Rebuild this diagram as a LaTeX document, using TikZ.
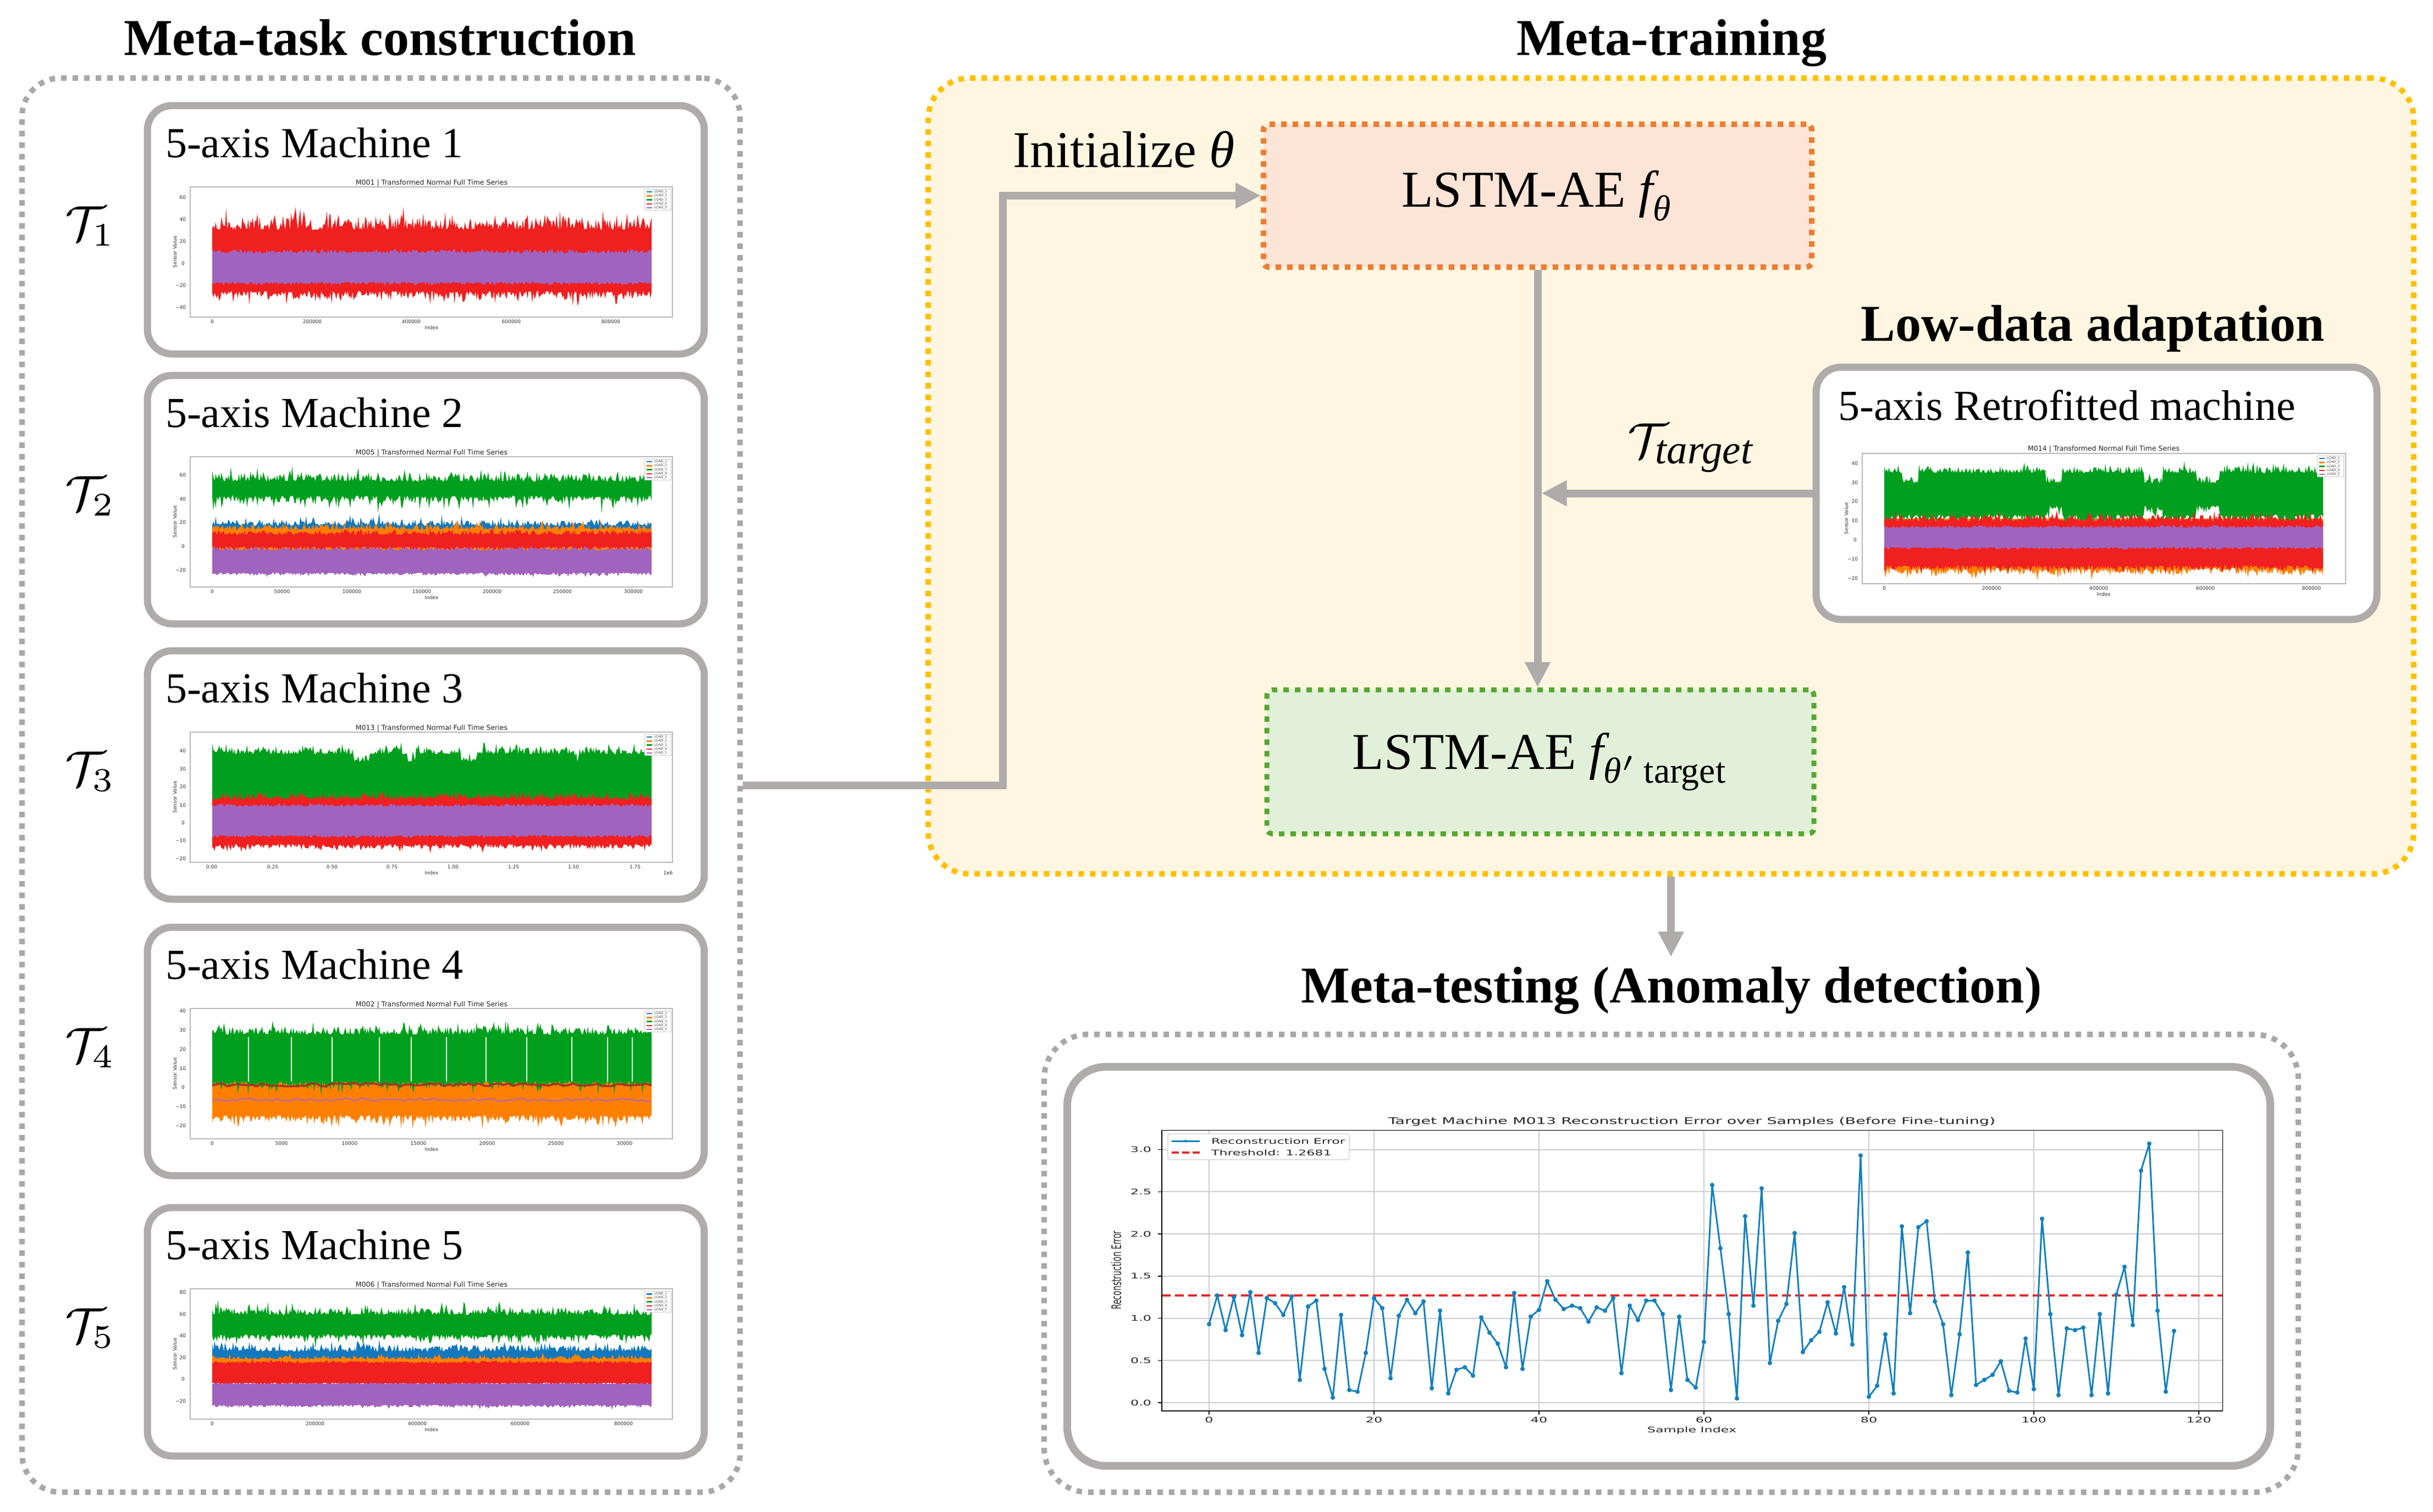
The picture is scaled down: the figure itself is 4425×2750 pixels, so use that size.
\documentclass[tikz,border=0pt]{standalone}
\usepackage{fontspec}
\usepackage{amsmath}
\usepackage{graphicx}
\setmainfont{Liberation Serif}
\newfontfamily\plotfont{DejaVu Sans}
\usetikzlibrary{arrows.meta}

\definecolor{boxgray}{RGB}{175,171,171}
\definecolor{arrowgray}{RGB}{175,171,171}
\definecolor{dotgray}{RGB}{168,168,168}
\definecolor{ygold}{RGB}{255,192,0}
\definecolor{cream}{RGB}{255,246,225}
\definecolor{orangeb}{RGB}{237,125,49}
\definecolor{peach}{RGB}{252,228,214}
\definecolor{greenb}{RGB}{84,168,48}
\definecolor{greenf}{RGB}{226,240,217}
\definecolor{pred}{RGB}{240,32,32}
\definecolor{ppurple}{RGB}{160,100,190}
\definecolor{pgreen}{RGB}{0,160,30}
\definecolor{porange}{RGB}{255,128,0}
\definecolor{pblue}{RGB}{20,120,190}
\definecolor{czero}{RGB}{20,128,190}
\definecolor{tred}{RGB}{230,40,40}
\definecolor{gridc}{RGB}{205,205,205}
\definecolor{pdark}{RGB}{170,50,40}
\definecolor{ppink}{RGB}{205,110,120}

% noisy filled band: colour, x0, x1, top, top noise, top spikes, bottom, bottom noise, bottom spikes
\newcommand\band[9]{%
  \fill[#1] plot[domain=#2:#3, samples=380, variable=\x] (\x,{#4-(#5)*pow(rnd,2)-(#6)*pow(rnd,7)})
    -- plot[domain=#3:#2, samples=380, variable=\x] (\x,{#7+(#8)*pow(rnd,2)+(#9)*pow(rnd,7)}) -- cycle;}
% band inside a machine plot: colour, axes top, t-top, a, s, t-bottom, a, s
\newcommand\bandM[8]{\band{#1}{386}{1185}{#2+237*(#3)}{237*(#4)}{237*(#5)}{#2+237*(#6)}{237*(#7)}{237*(#8)}}
\newcommand\bandR[8]{\band{#1}{3427}{4225}{#2+237*(#3)}{237*(#4)}{237*(#5)}{#2+237*(#6)}{237*(#7)}{237*(#8)}}

\newcommand\yticks[4]{\foreach \v/\p [count=\k] in {#4} \node[mtick, anchor=east] (#1\k) at (#2,{#3+237*\p}) {\v};}
\newcommand\xticks[3]{\foreach \v/\p [count=\k] in {#3} \node[mtick] (#1\k) at (\p,#2) {\v};}
\newcommand\minileg[3]{%
  \draw[draw=black!20, line width=0.1pt, fill=white] (#2,#3) rectangle ++(48,38);
  \foreach \c [count=\k] in {pblue,porange,pgreen,pred,ppurple}{
    \draw[\c, line width=0.25pt] (#2+4,#3+7.2*\k-2) -- ++(10,0);
    \node[mleg] (#1\k) at (#2+16,#3+7.2*\k-2) {LOAD\_\k};}}
\newcommand\ps[1]{\scalebox{1.7}[1]{#1}}

\begin{document}
\begin{tikzpicture}[x=0.1pt,y=-0.1pt,
  dotbox/.style={draw=#1, line width=1pt, dash pattern=on 1pt off 1.1pt, inner sep=0pt},
  mbox/.style={draw=boxgray, line width=1.3pt, rounded corners=4.5pt, fill=white, inner sep=0pt, minimum width=101.3pt, minimum height=45.2pt},
  conn/.style={draw=arrowgray, line width=1.4pt},
  arrowtip/.style={-{Triangle[length=4.6pt,width=4.4pt]}},
  heading/.style={font=\fontsize{9.4}{11}\selectfont\bfseries, inner sep=0pt, anchor=base},
  mlabel/.style={font=\fontsize{7.8}{9}\selectfont, inner sep=0pt, anchor=base west},
  biglabel/.style={font=\fontsize{9.4}{11}\selectfont, inner sep=0pt},
  tlab/.style={font=\fontsize{9.2}{10}\selectfont, inner sep=0pt, anchor=base west},
  mtick/.style={font=\plotfont\fontsize{0.9}{1.1}\selectfont, inner sep=0pt, text=black!80},
  mtitle/.style={font=\plotfont\fontsize{1.25}{1.5}\selectfont, inner sep=0pt, text=black!85},
  mleg/.style={font=\plotfont\fontsize{0.6}{0.7}\selectfont, inner sep=0pt, anchor=west, text=black!70},
  mframe/.style={draw=black!28, line width=0.25pt},
  ptext/.style={font=\plotfont\fontsize{1.4}{1.7}\selectfont, inner sep=0pt, text=black!85},
]
\useasboundingbox (0,0) rectangle (4425,2750);
\pgfmathsetseed{4242}

% ---------------- containers ----------------
\node[dotbox=ygold, fill=cream, rounded corners=7.5pt, minimum width=270.2pt, minimum height=144.8pt] (metatrain) at (3039,866) {};
\node[dotbox=dotgray, rounded corners=7pt, minimum width=130.6pt, minimum height=257.3pt] (metatask) at (693,1428.5) {};
\node[dotbox=dotgray, rounded corners=8pt, minimum width=228.1pt, minimum height=83.3pt] (metatest) at (3039.5,2298.5) {};

% ---------------- headings ----------------
\node[heading] (h1) at (691,100) {Meta-task construction};
\node[heading] (h2) at (3040,100) {Meta-training};
\node[heading] (h3) at (3806,620) {Low-data adaptation};
\node[heading] (h4) at (3040,1824) {Meta-testing (Anomaly detection)};

% ---------------- machine boxes ----------------
\foreach \tp [count=\i] in {192,683,1184,1687,2197}{
  \node[mbox] (m\i) at (774.5,\tp+226) {};
  \node[mlabel] (m\i lab) at (299,\tp+94) {5-axis Machine \i};
  \node[tlab] (t\i) at (116,\tp+245) {$\mathcal{T}_{\i}$};
  \draw[mframe] (346,\tp+148) rectangle (1223,\tp+385);
  \node[mtick, rotate=90] (m\i yl) at (318,\tp+266) {Sensor Value};
  \node[mtick] (m\i xl) at (785,\tp+404) {Index};
}
\node[mtitle] (m1tt) at (785,333) {M001 | Transformed Normal Full Time Series};
\node[mtitle] (m2tt) at (785,824) {M005 | Transformed Normal Full Time Series};
\node[mtitle] (m3tt) at (785,1325) {M013 | Transformed Normal Full Time Series};
\node[mtitle] (m4tt) at (785,1828) {M002 | Transformed Normal Full Time Series};
\node[mtitle] (m5tt) at (785,2338) {M006 | Transformed Normal Full Time Series};

% plot 1 (M001)
\bandM{pred}{340}{0.33}{0.10}{0.12}{0.80}{0.06}{0.07}
\bandM{ppurple}{340}{0.51}{0.03}{0.02}{0.73}{0.025}{0.01}
\yticks{b1y}{340}{340}{60/0.081,40/0.249,20/0.419,0/0.587,−20/0.755,−40/0.923}
\xticks{b1x}{585}{0/386,200000/568,400000/748,600000/930,800000/1111}
\minileg{b1l}{1172}{344}

% plot 2 (M005)
\bandM{pblue}{831}{0.53}{0.04}{0.06}{0.70}{0}{0}
\bandM{porange}{831}{0.56}{0.04}{0.04}{0.72}{0.01}{0}
\bandM{pgreen}{831}{0.19}{0.06}{0.08}{0.30}{0.05}{0.10}
\bandM{pred}{831}{0.60}{0.04}{0.02}{0.69}{0.03}{0.02}
\bandM{ppurple}{831}{0.72}{0.03}{0.02}{0.89}{0.02}{0.02}
\yticks{b2y}{340}{831}{60/0.14,40/0.324,20/0.504,0/0.687,−20/0.869}
\xticks{b2x}{1076}{0/386,50000/513,100000/640,150000/767,200000/895,250000/1023,300000/1152}
\minileg{b2l}{1172}{835}

% plot 3 (M013)
\bandM{pgreen}{1332}{0.17+0.06*((\x>643)*(\x<671)+(\x>741)*(\x<755)+(\x>839)*(\x<867)+(\x>1043)*(\x<1053))}{0.05}{0.07}{0.55}{0}{0}
\bandM{pred}{1332}{0.52}{0.06}{0.02}{0.86}{0.04}{0.03}
\bandM{ppurple}{1332}{0.57}{0.02}{0.01}{0.79}{0.02}{0.01}
\yticks{b3y}{340}{1332}{40/0.143,30/0.283,20/0.42,10/0.56,0/0.697,−10/0.834,−20/0.972}
\xticks{b3x}{1577}{0.00/385,0.25/496,0.50/604,0.75/713,1.00/824,1.25/934,1.50/1043,1.75/1155}
\node[mtick] (b3e) at (1215,1588) {1e6};
\minileg{b3l}{1172}{1336}

% plot 4 (M002)
\bandM{porange}{1835}{0.55}{0.05}{0.03}{0.82}{0.05}{0.08}
\bandM{pgreen}{1835}{0.20}{0.06}{0.08}{0.56}{0.05}{0.08}
\foreach \gx in {452,530,604,690,748,812,884,958,1040,1105,1150}
  \draw[white, line width=0.15pt] (\gx,1835+237*0.22) -- (\gx,1835+237*0.56);
\draw[pdark, line width=0.35pt] plot[domain=386:1185, samples=90, variable=\x] (\x,{1835+237*0.585+3*rand});
\draw[ppink, line width=0.35pt] plot[domain=386:1185, samples=90, variable=\x] (\x,{1835+237*0.70+3*rand});
\yticks{b4y}{340}{1835}{40/0.017,30/0.164,20/0.312,10/0.459,0/0.606,−10/0.752,−20/0.90}
\xticks{b4x}{2080}{0/386,5000/512,10000/636,15000/761,20000/886,25000/1011,30000/1136}
\minileg{b4l}{1172}{1839}

% plot 5 (M006)
\bandM{pblue}{2345}{0.48}{0.05}{0.06}{0.60}{0}{0}
\bandM{porange}{2345}{0.54}{0.02}{0.03}{0.60}{0}{0}
\bandM{pgreen}{2345}{0.20}{0.05}{0.07}{0.35}{0.04}{0.07}
\bandM{pred}{2345}{0.57}{0.02}{0.01}{0.72}{0.02}{0.01}
\bandM{ppurple}{2345}{0.73}{0.01}{0}{0.89}{0.02}{0.02}
\yticks{b5y}{340}{2345}{80/0.028,60/0.193,40/0.359,20/0.528,0/0.694,−20/0.862}
\xticks{b5x}{2590}{0/386,200000/573,400000/759,600000/946,800000/1134}
\minileg{b5l}{1172}{2349}

% ---------------- meta-training ----------------
\node[dotbox=orangeb, fill=peach, rounded corners=1pt, minimum width=99.7pt, minimum height=26pt, biglabel] (fth) at (2796.5,356) {LSTM-AE $\textit{f}_{\textit{θ}}$};
\node[dotbox=greenb, line width=0.9pt, fill=greenf, rounded corners=1pt, minimum width=99.5pt, minimum height=26.2pt, biglabel] (ftgt) at (2801.5,1386) {LSTM-AE $\textit{f}_{\textit{θ}'\,\text{target}}$};
\node[biglabel, anchor=base west] (init) at (1840,304) {Initialize \textit{θ}};
\node[biglabel, anchor=base west] (ttgt) at (2958,832) {$\mathcal{T}_{\text{\fontsize{7.5}{8}\selectfont\itshape target}}$};

% retrofitted machine
\node[mbox, minimum width=102pt, minimum height=45.9pt] (retro) at (3813,897.5) {};
\node[mlabel] (retrolab) at (3341,764) {5-axis Retrofitted machine};
\draw[mframe] (3387,825) rectangle (4266,1062);
\node[mtitle] (rtt) at (3826,817) {M014 | Transformed Normal Full Time Series};
\node[mtick, rotate=90] (ryl) at (3358,943) {Sensor Value};
\node[mtick] (rxl) at (3826,1081) {Index};
\bandR{porange}{825}{0.50}{0}{0}{0.88}{0.05}{0.06}
\bandR{pgreen}{825}{0.15+0.08*((\x>3720)*(\x<3750)+(\x>3899)*(\x<3934)+(\x>3994)*(\x<4036)+(\x>3460)*(\x<3490))}{0.05}{0.05}{0.47-0.07*((\x>3720)*(\x<3750)+(\x>3899)*(\x<3934)+(\x>3994)*(\x<4036))}{0.05}{0.08}
\bandR{pred}{825}{0.52}{0.05}{0.05}{0.86}{0.04}{0.03}
\bandR{ppurple}{825}{0.57}{0.02}{0}{0.72}{0.02}{0}
\yticks{ry}{3381}{825}{40/0.077,30/0.224,20/0.37,10/0.517,0/0.664,−10/0.81,−20/0.958}
\xticks{rx}{1070}{0/3427,200000/3622,400000/3817,600000/4011,800000/4204}
\minileg{rl}{4214}{829}

% ---------------- connectors ----------------
\coordinate (elb) at (1824,900);
\draw[conn, arrowtip] (metatask.east) -| (elb) |- (fth.west);
\draw[conn, arrowtip] (fth.south) -- (fth.south |- ftgt.north);
\coordinate (jn) at (fth.south |- retro.west);
\draw[conn, arrowtip, shorten >=0.7pt] (retro.west) -- (jn);
\coordinate (tend) at (3039,1741);
\draw[conn, arrowtip] (metatrain.south) -- (tend);

% ---------------- meta-testing plot ----------------
\node[mbox, minimum width=218.8pt, minimum height=72.6pt, rounded corners=7pt, line width=1.4pt] (testbox) at (3035,2304) {};
\begin{scope}[shift={(2199,2552)}, x=1.5pt, y=15.35pt]
  \foreach \i in {0,20,40,60,80,100,120} \draw[gridc, line width=0.2pt] (\i,-0.098) -- (\i,3.23);
  \foreach \v in {0,0.5,1,1.5,2,2.5,3} \draw[gridc, line width=0.2pt] (-5.73,\v) -- (122.9,\v);
  \foreach \i in {0,20,40,60,80,100,120} \draw[black, line width=0.15pt] (\i,-0.098) -- ++(0pt,-0.7pt);
  \foreach \v in {0,0.5,1,1.5,2,2.5,3} \draw[black, line width=0.15pt] (-5.73,\v) -- ++(-0.7pt,0pt);
  \draw[tred, line width=0.4pt, dash pattern=on 1.6pt off 0.8pt] (-5.73,1.2681) -- (122.9,1.2681);
  \draw[czero, line width=0.3pt, line join=round] plot[mark=*, mark size=0.25pt, mark options={draw=czero, fill=czero}] coordinates {
(0,0.93)(1,1.27)(2,0.86)(3,1.25)(4,0.80)(5,1.31)(6,0.59)(7,1.24)(8,1.18)(9,1.04)(10,1.26)(11,0.27)(12,1.14)(13,1.21)(14,0.40)(15,0.06)(16,1.04)(17,0.15)(18,0.13)(19,0.59)(20,1.24)(21,1.12)(22,0.29)(23,1.03)(24,1.22)(25,1.06)(26,1.20)(27,0.17)(28,1.09)(29,0.11)(30,0.39)(31,0.42)(32,0.32)(33,1.01)(34,0.83)(35,0.70)(36,0.42)(37,1.30)(38,0.40)(39,1.02)(40,1.10)(41,1.44)(42,1.22)(43,1.11)(44,1.15)(45,1.12)(46,0.96)(47,1.13)(48,1.09)(49,1.24)(50,0.35)(51,1.15)(52,0.98)(53,1.21)(54,1.21)(55,1.05)(56,0.15)(57,1.02)(58,0.27)(59,0.18)(60,0.72)(61,2.58)(62,1.83)(63,1.05)(64,0.05)(65,2.21)(66,1.15)(67,2.54)(68,0.47)(69,0.97)(70,1.17)(71,2.01)(72,0.60)(73,0.74)(74,0.84)(75,1.19)(76,0.82)(77,1.37)(78,0.69)(79,2.93)(80,0.07)(81,0.20)(82,0.81)(83,0.11)(84,2.09)(85,1.06)(86,2.08)(87,2.15)(88,1.20)(89,0.93)(90,0.09)(91,0.81)(92,1.78)(93,0.21)(94,0.27)(95,0.33)(96,0.49)(97,0.14)(98,0.12)(99,0.76)(100,0.16)(101,2.18)(102,1.05)(103,0.09)(104,0.88)(105,0.86)(106,0.89)(107,0.09)(108,1.05)(109,0.11)(110,1.28)(111,1.61)(112,0.92)(113,2.75)(114,3.07)(115,1.09)(116,0.13)(117,0.85)};
  \draw[black, line width=0.15pt] (-5.73,-0.098) rectangle (122.9,3.23);
\end{scope}
\foreach \i [count=\k] in {0,20,40,60,80,100,120}
  \node[ptext] (tx\k) at ({2199+15*\i},2583) {\ps{\i}};
\foreach \v/\lab [count=\k] in {0/0.0,0.5/0.5,1/1.0,1.5/1.5,2/2.0,2.5/2.5,3/3.0}
  \node[ptext, anchor=east] (ty\k) at (2096,{2552-153.5*\v}) {\ps{\lab}};
\node[ptext, font=\plotfont\fontsize{1.68}{2}\selectfont] (ptitle) at (3077,2041) {\ps{Target Machine M013 Reconstruction Error over Samples (Before Fine-tuning)}};
\node[ptext] (pxl) at (3077,2603) {\ps{Sample Index}};
\node[ptext, rotate=90] (pyl) at (2030,2311) {\scalebox{1}[1.7]{Reconstruction Error}};
% legend
\draw[draw=black!20, line width=0.12pt, fill=white, rounded corners=0.4pt] (2124,2063) rectangle (2454,2110);
\draw[czero, line width=0.3pt] (2131,2076) -- (2182,2076);
\fill[czero] (2156.5,2076) circle (0.25pt);
\draw[tred, line width=0.4pt, dash pattern=on 1.3pt off 0.6pt] (2131,2097) -- (2182,2097);
\node[ptext, anchor=west] (lg1) at (2201,2076) {\ps{Reconstruction Error}};
\node[ptext, anchor=west] (lg2) at (2201,2097) {\ps{Threshold: 1.2681}};
\end{tikzpicture}
\end{document}
